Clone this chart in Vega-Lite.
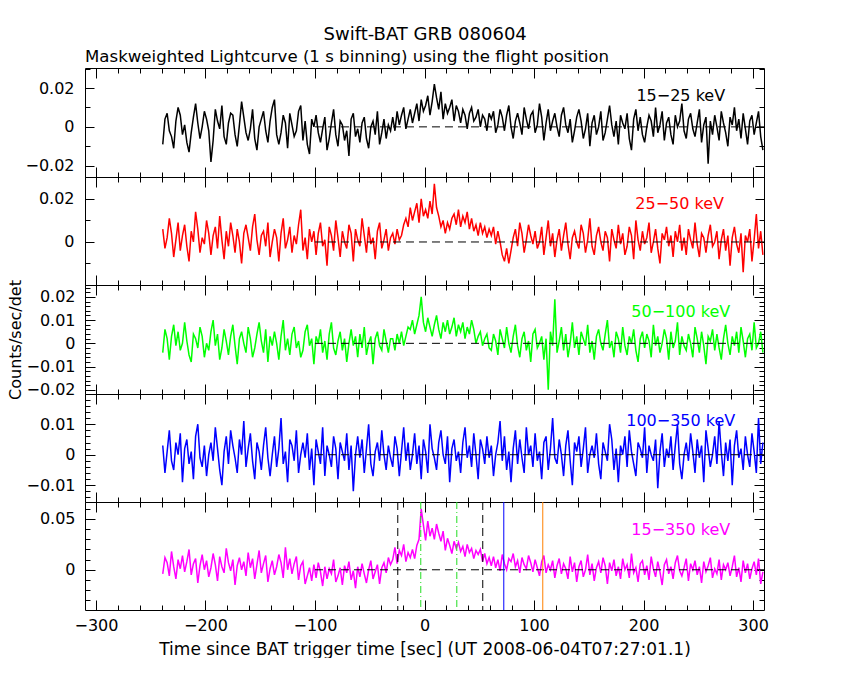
{
  "$schema": "https://vega.github.io/schema/vega-lite/v6.json",
  "padding": {"left": 7, "top": 26, "right": 0, "bottom": 0},
  "background": "white",
  "title": {"text": "Swift-BAT GRB 080604", "anchor": "middle", "offset": 4, "dx": 37, "fontSize": 18},
  "config": {
    "font": "DejaVu Sans",
    "view": {"stroke": "black", "strokeWidth": 1},
    "axis": {
      "grid": false, "domain": false,
      "labelFont": "DejaVu Sans", "labelFontSize": 16, "labelColor": "black",
      "tickColor": "black", "tickWidth": 1,
      "titleFont": "DejaVu Sans", "titleFontSize": 16, "titleFontWeight": "normal", "titleColor": "black"
    },
    "title": {"font": "DejaVu Sans", "fontSize": 16, "fontWeight": "normal", "color": "black"},
    "concat": {"spacing": 0}
  },
  "data": {"values": [
    {"t":-239,"a":-0.009,"b":0.006,"c":-0.004,"d":0.003,"e":-0.004},
    {"t":-237,"a":0.004,"b":-0.003,"c":0.006,"d":-0.006,"e":0.012},
    {"t":-235,"a":0.007,"b":0.002,"c":0.002,"d":0.001,"e":0.007},
    {"t":-233,"a":-0.002,"b":0.011,"c":-0.007,"d":0.008,"e":-0.006},
    {"t":-231,"a":-0.005,"b":0.004,"c":0.003,"d":-0.002,"e":0.018},
    {"t":-229,"a":-0.011,"b":-0.007,"c":0.008,"d":-0.005,"e":0.003},
    {"t":-227,"a":0.003,"b":0.001,"c":-0.001,"d":0.004,"e":-0.009},
    {"t":-225,"a":0.010,"b":0.009,"c":0.005,"d":0,"e":0.010},
    {"t":-223,"a":0.006,"b":-0.004,"c":-0.003,"d":0.007,"e":0.001},
    {"t":-221,"a":-0.004,"b":0.003,"c":0,"d":-0.009,"e":0.014},
    {"t":-219,"a":0.001,"b":0.008,"c":0.009,"d":0.002,"e":-0.002},
    {"t":-217,"a":-0.008,"b":-0.002,"c":0.001,"d":0.005,"e":0.008},
    {"t":-215,"a":-0.013,"b":-0.009,"c":-0.005,"d":-0.003,"e":0.020},
    {"t":-213,"a":-0.003,"b":0.005,"c":-0.008,"d":0.001,"e":-0.005},
    {"t":-211,"a":0.005,"b":0,"c":0.004,"d":-0.008,"e":0.006},
    {"t":-209,"a":0.012,"b":0.014,"c":0.002,"d":0.006,"e":0.011},
    {"t":-207,"a":0.002,"b":0.006,"c":-0.002,"d":0.010,"e":-0.013},
    {"t":-205,"a":-0.006,"b":-0.005,"c":0.007,"d":-0.001,"e":0.004},
    {"t":-203,"a":0,"b":0.002,"c":0.003,"d":-0.004,"e":0.015},
    {"t":-201,"a":0.008,"b":-0.001,"c":-0.006,"d":0.003,"e":0},
    {"t":-199,"a":0.004,"b":0.010,"c":0,"d":-0.007,"e":0.009},
    {"t":-197,"a":-0.002,"b":0.004,"c":-0.003,"d":0,"e":-0.007},
    {"t":-195,"a":-0.018,"b":-0.006,"c":0.005,"d":0.004,"e":0.002},
    {"t":-193,"a":-0.007,"b":0.003,"c":0.010,"d":-0.002,"e":0.016},
    {"t":-191,"a":0.009,"b":0.007,"c":-0.001,"d":0.009,"e":0.005},
    {"t":-189,"a":0.003,"b":-0.003,"c":0.004,"d":0.002,"e":-0.011},
    {"t":-187,"a":-0.001,"b":0.012,"c":-0.007,"d":-0.005,"e":0.013},
    {"t":-185,"a":0.011,"b":0.001,"c":-0.002,"d":-0.010,"e":0.003},
    {"t":-183,"a":-0.005,"b":-0.008,"c":0.006,"d":0.001,"e":-0.003},
    {"t":-181,"a":-0.009,"b":0.005,"c":0.001,"d":0.006,"e":0.021},
    {"t":-179,"a":0.002,"b":-0.002,"c":-0.005,"d":-0.003,"e":0.007},
    {"t":-177,"a":0.007,"b":0.009,"c":0.003,"d":0.008,"e":-0.001},
    {"t":-175,"a":0.006,"b":0.003,"c":0.008,"d":0.003,"e":0.010},
    {"t":-173,"a":-0.004,"b":-0.005,"c":-0.001,"d":-0.001,"e":-0.015},
    {"t":-171,"a":-0.010,"b":0.006,"c":-0.009,"d":-0.006,"e":0.004},
    {"t":-169,"a":0.001,"b":0,"c":0.002,"d":0.005,"e":0.012},
    {"t":-167,"a":0.013,"b":-0.010,"c":0.005,"d":0,"e":0},
    {"t":-165,"a":0.005,"b":0.004,"c":0,"d":0.011,"e":0.008},
    {"t":-163,"a":-0.003,"b":0.008,"c":-0.004,"d":-0.004,"e":-0.006},
    {"t":-161,"a":-0.007,"b":0.002,"c":0.007,"d":0.002,"e":0.017},
    {"t":-159,"a":-0.001,"b":-0.004,"c":0.002,"d":0.007,"e":0.002},
    {"t":-157,"a":0.009,"b":0.007,"c":-0.006,"d":-0.002,"e":0.011},
    {"t":-155,"a":-0.006,"b":0.013,"c":-0.002,"d":-0.008,"e":-0.009},
    {"t":-153,"a":-0.012,"b":0.001,"c":0.004,"d":0.004,"e":0.005},
    {"t":-151,"a":0,"b":-0.006,"c":0.009,"d":0.001,"e":0.019},
    {"t":-149,"a":0.004,"b":0.003,"c":0.001,"d":-0.005,"e":-0.003},
    {"t":-147,"a":0.008,"b":0.005,"c":-0.004,"d":0.003,"e":0.006},
    {"t":-145,"a":-0.002,"b":-0.002,"c":0.006,"d":0.009,"e":0.014},
    {"t":-143,"a":-0.008,"b":0.009,"c":-0.008,"d":-0.001,"e":-0.012},
    {"t":-141,"a":0.003,"b":-0.007,"c":0.003,"d":-0.007,"e":0.001},
    {"t":-139,"a":0.010,"b":0,"c":-0.001,"d":0,"e":0.009},
    {"t":-137,"a":0.014,"b":0.006,"c":0.005,"d":0.006,"e":-0.005},
    {"t":-135,"a":-0.004,"b":0.002,"c":0,"d":-0.004,"e":0.003},
    {"t":-133,"a":-0.009,"b":-0.009,"c":-0.007,"d":0.002,"e":0.015},
    {"t":-131,"a":-0.003,"b":0.004,"c":0.003,"d":0.012,"e":0.007},
    {"t":-129,"a":0.006,"b":0.011,"c":0.010,"d":-0.003,"e":-0.008},
    {"t":-127,"a":0.002,"b":-0.003,"c":-0.003,"d":0.001,"e":0.022},
    {"t":-125,"a":-0.011,"b":0.001,"c":0.002,"d":-0.009,"e":0},
    {"t":-123,"a":0.007,"b":0.007,"c":-0.005,"d":0.005,"e":0.011},
    {"t":-121,"a":0.001,"b":-0.005,"c":0.004,"d":0.003,"e":-0.004},
    {"t":-119,"a":-0.005,"b":0.003,"c":0.007,"d":-0.002,"e":0.006},
    {"t":-117,"a":-0.002,"b":-0.001,"c":-0.002,"d":0.008,"e":0.013},
    {"t":-115,"a":0.008,"b":0.008,"c":0.001,"d":-0.006,"e":-0.010},
    {"t":-113,"a":0.011,"b":0.015,"c":-0.006,"d":0,"e":0.004},
    {"t":-111,"a":-0.007,"b":-0.004,"c":-0.003,"d":0.004,"e":0.008},
    {"t":-109,"a":0.003,"b":0.002,"c":0.005,"d":-0.001,"e":-0.014},
    {"t":-107,"a":-0.009,"b":-0.008,"c":0.008,"d":0.007,"e":-0.006},
    {"t":-105,"a":-0.014,"b":0.006,"c":-0.001,"d":-0.005,"e":0.002},
    {"t":-103,"a":0.004,"b":0,"c":0.002,"d":0.002,"e":-0.011},
    {"t":-101,"a":0,"b":0.005,"c":-0.009,"d":-0.010,"e":0.005},
    {"t":-99,"a":0.006,"b":-0.006,"c":0.003,"d":0.005,"e":-0.008},
    {"t":-97,"a":-0.003,"b":0.004,"c":0,"d":0.001,"e":0.007},
    {"t":-95,"a":-0.008,"b":0.009,"c":0.006,"d":-0.003,"e":-0.002},
    {"t":-93,"a":-0.001,"b":-0.002,"c":-0.004,"d":0.009,"e":-0.016},
    {"t":-91,"a":0.005,"b":0.001,"c":0.001,"d":-0.007,"e":0.003},
    {"t":-89,"a":-0.012,"b":-0.011,"c":-0.007,"d":0.003,"e":-0.009},
    {"t":-87,"a":-0.006,"b":0.007,"c":0.004,"d":0,"e":0.001},
    {"t":-85,"a":0.002,"b":0.003,"c":0.009,"d":-0.004,"e":-0.004},
    {"t":-83,"a":0.009,"b":-0.004,"c":-0.002,"d":0.006,"e":0.010},
    {"t":-81,"a":-0.004,"b":0.010,"c":-0.005,"d":0.002,"e":-0.012},
    {"t":-79,"a":-0.010,"b":0.002,"c":0.001,"d":-0.008,"e":-0.006},
    {"t":-77,"a":0.003,"b":-0.007,"c":0.005,"d":0.004,"e":0.002},
    {"t":-75,"a":0.001,"b":0.005,"c":-0.003,"d":0.001,"e":-0.015},
    {"t":-73,"a":-0.007,"b":0,"c":0.002,"d":-0.002,"e":0.004},
    {"t":-71,"a":-0.002,"b":-0.003,"c":-0.008,"d":0.007,"e":-0.003},
    {"t":-69,"a":-0.015,"b":0.008,"c":0,"d":-0.005,"e":0.008},
    {"t":-67,"a":0.004,"b":0.004,"c":0.006,"d":0.003,"e":-0.010},
    {"t":-65,"a":0.007,"b":-0.009,"c":-0.001,"d":-0.012,"e":-0.001},
    {"t":-63,"a":-0.005,"b":0.006,"c":0.003,"d":0,"e":-0.018},
    {"t":-61,"a":-0.001,"b":0.001,"c":-0.006,"d":0.006,"e":0.003},
    {"t":-59,"a":-0.008,"b":-0.002,"c":0.004,"d":-0.001,"e":-0.007},
    {"t":-57,"a":0.002,"b":0.011,"c":-0.002,"d":0.005,"e":0.006},
    {"t":-55,"a":0.005,"b":0.003,"c":0.007,"d":-0.006,"e":-0.004},
    {"t":-53,"a":-0.006,"b":-0.005,"c":-0.005,"d":0.002,"e":-0.013},
    {"t":-51,"a":-0.011,"b":0.007,"c":0,"d":0.010,"e":0},
    {"t":-49,"a":0,"b":-0.001,"c":0.003,"d":-0.003,"e":0.009},
    {"t":-47,"a":0.003,"b":0.002,"c":-0.009,"d":-0.007,"e":-0.009},
    {"t":-45,"a":-0.004,"b":-0.008,"c":0.002,"d":0.001,"e":-0.002},
    {"t":-43,"a":0.008,"b":0.005,"c":0.005,"d":0.004,"e":0.005},
    {"t":-41,"a":-0.009,"b":0.009,"c":-0.001,"d":-0.002,"e":-0.014},
    {"t":-39,"a":-0.003,"b":-0.003,"c":-0.003,"d":0.008,"e":0.002},
    {"t":-37,"a":0.004,"b":0.001,"c":0.006,"d":0,"e":0.007},
    {"t":-35,"a":-0.006,"b":0.006,"c":0.001,"d":-0.005,"e":-0.003},
    {"t":-33,"a":0.001,"b":-0.004,"c":-0.004,"d":0.003,"e":0.012},
    {"t":-31,"a":-0.002,"b":0.002,"c":0.002,"d":-0.001,"e":0.005},
    {"t":-29,"a":0.005,"b":0.004,"c":0.002,"d":-0.004,"e":0.010},
    {"t":-27,"a":-0.002,"b":-0.001,"c":-0.003,"d":0.006,"e":0.022},
    {"t":-25,"a":0.008,"b":0.006,"c":0.004,"d":0.002,"e":0.006},
    {"t":-23,"a":0.001,"b":0.001,"c":0,"d":-0.007,"e":0.019},
    {"t":-21,"a":0.006,"b":0.003,"c":0.005,"d":0.001,"e":0.014},
    {"t":-19,"a":0.010,"b":0.008,"c":-0.001,"d":0.009,"e":0.025},
    {"t":-17,"a":-0.001,"b":0.011,"c":0.003,"d":-0.002,"e":0.008},
    {"t":-15,"a":0.004,"b":0.007,"c":0.007,"d":0.004,"e":0.017},
    {"t":-13,"a":0.009,"b":0.016,"c":0.006,"d":-0.005,"e":0.012},
    {"t":-11,"a":0.002,"b":0.010,"c":0.010,"d":0,"e":0.020},
    {"t":-9,"a":0.007,"b":0.014,"c":0.004,"d":0.007,"e":0.011},
    {"t":-7,"a":0.012,"b":0.018,"c":0.008,"d":-0.003,"e":0.024},
    {"t":-5,"a":0.003,"b":0.009,"c":0.012,"d":0.003,"e":0.030},
    {"t":-3,"a":0.014,"b":0.020,"c":0.020,"d":-0.008,"e":0.060},
    {"t":-1,"a":0.008,"b":0.012,"c":0.009,"d":0.005,"e":0.044},
    {"t":1,"a":0.011,"b":0.015,"c":0.005,"d":0.001,"e":0.029},
    {"t":3,"a":0.016,"b":0.011,"c":0.011,"d":-0.006,"e":0.048},
    {"t":5,"a":0.006,"b":0.019,"c":0.007,"d":0.010,"e":0.033},
    {"t":7,"a":0.013,"b":0.013,"c":0.003,"d":0.002,"e":0.041},
    {"t":9,"a":0.022,"b":0.027,"c":0.008,"d":-0.001,"e":0.030},
    {"t":11,"a":0.015,"b":0.016,"c":0.012,"d":-0.005,"e":0.045},
    {"t":13,"a":0.009,"b":0.012,"c":0.006,"d":0.004,"e":0.036},
    {"t":15,"a":0.018,"b":0.007,"c":0.002,"d":0.008,"e":0.028},
    {"t":17,"a":0.004,"b":0.010,"c":0.009,"d":0,"e":0.038},
    {"t":19,"a":0.012,"b":0.004,"c":0.005,"d":-0.003,"e":0.019},
    {"t":21,"a":0.007,"b":0.009,"c":0.010,"d":0.006,"e":0.031},
    {"t":23,"a":0.010,"b":0.006,"c":0.004,"d":-0.009,"e":0.024},
    {"t":25,"a":0.014,"b":0.011,"c":0.007,"d":0.002,"e":0.016},
    {"t":27,"a":0.003,"b":0.013,"c":0.011,"d":0.005,"e":0.028},
    {"t":29,"a":0.011,"b":0.008,"c":0.003,"d":-0.002,"e":0.021},
    {"t":31,"a":0.008,"b":0.015,"c":0.008,"d":0.001,"e":0.027},
    {"t":33,"a":0.002,"b":0.007,"c":0.005,"d":-0.006,"e":0.018},
    {"t":35,"a":0.009,"b":0.012,"c":0.009,"d":0.004,"e":0.023},
    {"t":37,"a":0.006,"b":0.009,"c":0.002,"d":0.009,"e":0.013},
    {"t":39,"a":-0.001,"b":0.014,"c":0.007,"d":-0.001,"e":0.025},
    {"t":41,"a":0.007,"b":0.006,"c":0.004,"d":0.003,"e":0.017},
    {"t":43,"a":0.010,"b":0.011,"c":0.010,"d":-0.004,"e":0.021},
    {"t":45,"a":0.003,"b":0.005,"c":0.006,"d":0.007,"e":0.011},
    {"t":47,"a":0.005,"b":0.008,"c":0,"d":0,"e":0.019},
    {"t":49,"a":0.009,"b":0.003,"c":0.003,"d":-0.008,"e":0.015},
    {"t":51,"a":0,"b":0.009,"c":0.005,"d":0.005,"e":0.020},
    {"t":53,"a":0.006,"b":0.004,"c":-0.001,"d":0.002,"e":0.008},
    {"t":55,"a":0.004,"b":0.007,"c":0.002,"d":-0.003,"e":0.016},
    {"t":57,"a":-0.002,"b":0.002,"c":0.004,"d":0.006,"e":0.006},
    {"t":59,"a":0.007,"b":0.006,"c":-0.002,"d":-0.001,"e":0.012},
    {"t":61,"a":0.004,"b":0.003,"c":-0.003,"d":0.003,"e":0.004},
    {"t":63,"a":0.008,"b":0.007,"c":0.004,"d":-0.007,"e":0.013},
    {"t":65,"a":-0.003,"b":-0.001,"c":0.001,"d":0,"e":0.002},
    {"t":67,"a":0.001,"b":0.005,"c":-0.005,"d":0.004,"e":0.010},
    {"t":69,"a":0.009,"b":0,"c":0.006,"d":0.011,"e":-0.001},
    {"t":71,"a":0.005,"b":-0.006,"c":0.002,"d":-0.002,"e":0.015},
    {"t":73,"a":-0.002,"b":-0.009,"c":-0.002,"d":0.006,"e":0.006},
    {"t":75,"a":0.006,"b":-0.003,"c":0.007,"d":-0.005,"e":0},
    {"t":77,"a":0.011,"b":-0.010,"c":0,"d":0.001,"e":0.011},
    {"t":79,"a":0,"b":-0.004,"c":-0.004,"d":-0.009,"e":0.008},
    {"t":81,"a":-0.006,"b":0.002,"c":0.003,"d":0.002,"e":0.016},
    {"t":83,"a":0.003,"b":0.006,"c":0.008,"d":0.008,"e":0.003},
    {"t":85,"a":0.007,"b":-0.002,"c":-0.001,"d":-0.003,"e":0.009},
    {"t":87,"a":0.002,"b":0.009,"c":-0.006,"d":0.005,"e":-0.003},
    {"t":89,"a":-0.004,"b":0.004,"c":0.002,"d":-0.001,"e":0.012},
    {"t":91,"a":0.010,"b":-0.005,"c":0.005,"d":-0.006,"e":0.005},
    {"t":93,"a":0.004,"b":0.001,"c":-0.003,"d":0.009,"e":0.001},
    {"t":95,"a":-0.001,"b":0.008,"c":0.001,"d":0,"e":0.014},
    {"t":97,"a":0.006,"b":0.003,"c":-0.008,"d":0.003,"e":0.007},
    {"t":99,"a":0.008,"b":-0.001,"c":0.004,"d":-0.004,"e":-0.002},
    {"t":101,"a":-0.003,"b":0.005,"c":0.006,"d":0.007,"e":0.010},
    {"t":103,"a":0.001,"b":-0.003,"c":-0.002,"d":-0.002,"e":0.002},
    {"t":105,"a":0.012,"b":0,"c":0,"d":0.001,"e":-0.006},
    {"t":107,"a":0.005,"b":0.007,"c":0.003,"d":-0.008,"e":0.008},
    {"t":109,"a":-0.007,"b":-0.006,"c":-0.007,"d":0.004,"e":0.014},
    {"t":111,"a":0.002,"b":0.002,"c":0.002,"d":0.006,"e":-0.003},
    {"t":113,"a":0.009,"b":0.010,"c":-0.020,"d":-0.005,"e":0.005},
    {"t":115,"a":-0.002,"b":-0.002,"c":0.005,"d":0.002,"e":0},
    {"t":117,"a":0.003,"b":0.004,"c":-0.001,"d":0.012,"e":0.009},
    {"t":119,"a":0.007,"b":-0.007,"c":0.019,"d":-0.001,"e":-0.008},
    {"t":121,"a":0,"b":0.001,"c":-0.004,"d":-0.003,"e":0.004},
    {"t":123,"a":-0.005,"b":0.006,"c":0.001,"d":0.005,"e":0.011},
    {"t":125,"a":0.006,"b":-0.004,"c":0.007,"d":0,"e":-0.004},
    {"t":127,"a":0.010,"b":0.003,"c":-0.003,"d":-0.007,"e":0.006},
    {"t":129,"a":0.001,"b":0.009,"c":0.004,"d":0.003,"e":0.001},
    {"t":131,"a":-0.003,"b":-0.001,"c":-0.006,"d":0.008,"e":-0.009},
    {"t":133,"a":0.004,"b":-0.008,"c":0,"d":-0.002,"e":0.013},
    {"t":135,"a":-0.008,"b":0.002,"c":0.009,"d":-0.010,"e":-0.002},
    {"t":137,"a":-0.002,"b":0.005,"c":-0.002,"d":0.004,"e":0.007},
    {"t":139,"a":0.005,"b":0,"c":0.003,"d":0.001,"e":-0.012},
    {"t":141,"a":0.009,"b":-0.003,"c":-0.005,"d":0.006,"e":0.003},
    {"t":143,"a":0.003,"b":0.008,"c":0.005,"d":-0.004,"e":0.009},
    {"t":145,"a":-0.006,"b":0.004,"c":0.002,"d":0.002,"e":-0.007},
    {"t":147,"a":-0.001,"b":-0.005,"c":-0.001,"d":0.009,"e":0},
    {"t":149,"a":0.007,"b":0.001,"c":0.008,"d":-0.006,"e":0.015},
    {"t":151,"a":-0.010,"b":0.011,"c":-0.004,"d":0,"e":-0.005},
    {"t":153,"a":0.002,"b":-0.002,"c":0.001,"d":0.003,"e":0.006},
    {"t":155,"a":0.006,"b":-0.006,"c":-0.007,"d":-0.001,"e":-0.011},
    {"t":157,"a":-0.004,"b":0.003,"c":0.003,"d":0.007,"e":0.002},
    {"t":159,"a":0,"b":0.007,"c":0.006,"d":-0.003,"e":0.008},
    {"t":161,"a":0.008,"b":0,"c":0,"d":-0.008,"e":-0.003},
    {"t":163,"a":-0.007,"b":-0.004,"c":-0.003,"d":0.004,"e":0.012},
    {"t":165,"a":-0.003,"b":0.005,"c":0.004,"d":0.001,"e":0.004},
    {"t":167,"a":0.004,"b":0.002,"c":0.010,"d":-0.002,"e":-0.014},
    {"t":169,"a":0.011,"b":-0.009,"c":-0.002,"d":0.010,"e":0.007},
    {"t":171,"a":0.001,"b":0.006,"c":0.001,"d":0.005,"e":-0.001},
    {"t":173,"a":-0.005,"b":0.001,"c":-0.006,"d":-0.005,"e":0.010},
    {"t":175,"a":0.003,"b":-0.003,"c":0.005,"d":0.002,"e":-0.006},
    {"t":177,"a":-0.009,"b":0.008,"c":0.002,"d":-0.009,"e":0.003},
    {"t":179,"a":0.006,"b":-0.001,"c":-0.004,"d":0.003,"e":-0.009},
    {"t":181,"a":0.002,"b":0.004,"c":0.007,"d":0,"e":0.011},
    {"t":183,"a":-0.001,"b":-0.006,"c":-0.001,"d":0.006,"e":0},
    {"t":185,"a":0.007,"b":-0.002,"c":-0.005,"d":-0.004,"e":0.005},
    {"t":187,"a":-0.006,"b":0.007,"c":0.003,"d":0.008,"e":-0.008},
    {"t":189,"a":-0.012,"b":0.003,"c":0,"d":0.001,"e":0.016},
    {"t":191,"a":0.004,"b":-0.008,"c":0.006,"d":-0.003,"e":-0.003},
    {"t":193,"a":0.009,"b":0.010,"c":-0.003,"d":-0.007,"e":0.002},
    {"t":195,"a":-0.002,"b":0.001,"c":-0.008,"d":0.004,"e":-0.012},
    {"t":197,"a":0.005,"b":-0.004,"c":0.002,"d":0.002,"e":0.006},
    {"t":199,"a":-0.004,"b":0.005,"c":0.005,"d":-0.001,"e":0.009},
    {"t":201,"a":-0.008,"b":-0.001,"c":-0.002,"d":0.009,"e":-0.005},
    {"t":203,"a":0,"b":0.002,"c":0.004,"d":-0.006,"e":0.004},
    {"t":205,"a":0.006,"b":0.009,"c":0.001,"d":0.003,"e":-0.010},
    {"t":207,"a":0.003,"b":-0.005,"c":-0.006,"d":0,"e":0.013},
    {"t":209,"a":-0.005,"b":0,"c":0.008,"d":-0.002,"e":0.001},
    {"t":211,"a":0.010,"b":0.006,"c":-0.001,"d":0.005,"e":-0.007},
    {"t":213,"a":-0.003,"b":-0.003,"c":0.003,"d":-0.011,"e":0.008},
    {"t":215,"a":0.001,"b":-0.010,"c":-0.004,"d":0.001,"e":-0.002},
    {"t":217,"a":0.008,"b":0.004,"c":0,"d":0.007,"e":-0.015},
    {"t":219,"a":-0.007,"b":0.001,"c":0.006,"d":-0.004,"e":0.005},
    {"t":221,"a":0.002,"b":0.007,"c":0.002,"d":0.002,"e":0.010},
    {"t":223,"a":0.005,"b":-0.002,"c":-0.007,"d":-0.001,"e":-0.004},
    {"t":225,"a":-0.004,"b":0.003,"c":0.005,"d":0.006,"e":0.003},
    {"t":227,"a":-0.009,"b":-0.007,"c":-0.002,"d":-0.005,"e":-0.009},
    {"t":229,"a":0.006,"b":0.005,"c":0.001,"d":0.003,"e":0.007},
    {"t":231,"a":0,"b":0,"c":0.009,"d":0.010,"e":0.014},
    {"t":233,"a":0.003,"b":0.008,"c":-0.005,"d":-0.003,"e":-0.001},
    {"t":235,"a":0.012,"b":-0.004,"c":0.003,"d":-0.008,"e":-0.006},
    {"t":237,"a":-0.002,"b":0.002,"c":-0.001,"d":0,"e":0.002},
    {"t":239,"a":-0.006,"b":-0.006,"c":-0.003,"d":0.004,"e":0.011},
    {"t":241,"a":0.004,"b":0.006,"c":0.004,"d":-0.002,"e":-0.011},
    {"t":243,"a":0.007,"b":0.001,"c":0,"d":0.007,"e":0.006},
    {"t":245,"a":-0.001,"b":-0.003,"c":-0.006,"d":0.001,"e":0},
    {"t":247,"a":-0.005,"b":0.009,"c":0.007,"d":-0.006,"e":0.009},
    {"t":249,"a":0.002,"b":-0.001,"c":0.002,"d":0.005,"e":-0.005},
    {"t":251,"a":0.009,"b":-0.007,"c":-0.004,"d":-0.001,"e":0.003},
    {"t":253,"a":-0.008,"b":0.004,"c":0.005,"d":0.003,"e":-0.013},
    {"t":255,"a":0.001,"b":0.002,"c":-0.001,"d":-0.009,"e":0.008},
    {"t":257,"a":0.005,"b":-0.005,"c":-0.009,"d":0.008,"e":-0.002},
    {"t":259,"a":-0.019,"b":0.003,"c":0.003,"d":0.002,"e":0.004},
    {"t":261,"a":0.003,"b":0.008,"c":0.001,"d":-0.004,"e":0.012},
    {"t":263,"a":-0.004,"b":-0.002,"c":0.006,"d":0,"e":-0.008},
    {"t":265,"a":0.006,"b":0,"c":-0.003,"d":0.006,"e":0.001},
    {"t":267,"a":0,"b":0.005,"c":0.004,"d":-0.003,"e":-0.004},
    {"t":269,"a":-0.007,"b":-0.008,"c":-0.002,"d":0.011,"e":0.010},
    {"t":271,"a":0.008,"b":0.001,"c":-0.007,"d":0.001,"e":-0.010},
    {"t":273,"a":0.002,"b":0.006,"c":0.002,"d":-0.007,"e":0.005},
    {"t":275,"a":-0.003,"b":-0.004,"c":0.008,"d":0.004,"e":0},
    {"t":277,"a":-0.010,"b":0.003,"c":0,"d":-0.002,"e":0.007},
    {"t":279,"a":0.005,"b":-0.011,"c":-0.005,"d":0.005,"e":-0.006},
    {"t":281,"a":0.001,"b":0.002,"c":0.003,"d":-0.010,"e":0.003},
    {"t":283,"a":0.010,"b":0.007,"c":-0.001,"d":0.003,"e":0.014},
    {"t":285,"a":-0.002,"b":-0.001,"c":0.005,"d":0.008,"e":-0.007},
    {"t":287,"a":0.004,"b":-0.005,"c":-0.004,"d":-0.001,"e":0.002},
    {"t":289,"a":-0.006,"b":0.004,"c":0.007,"d":0.002,"e":-0.012},
    {"t":291,"a":0.007,"b":-0.014,"c":0.001,"d":-0.005,"e":0.009},
    {"t":293,"a":-0.001,"b":0.003,"c":-0.006,"d":0.006,"e":-0.003},
    {"t":295,"a":-0.009,"b":0,"c":0.002,"d":0,"e":0.006},
    {"t":297,"a":0.003,"b":0.006,"c":0.004,"d":-0.004,"e":-0.009},
    {"t":299,"a":0.006,"b":-0.009,"c":-0.003,"d":0.007,"e":0.001},
    {"t":301,"a":-0.004,"b":0.001,"c":0.009,"d":0.001,"e":0.008},
    {"t":303,"a":0.002,"b":0.013,"c":-0.002,"d":-0.006,"e":-0.005},
    {"t":305,"a":0.008,"b":-0.003,"c":0,"d":0.012,"e":0.011},
    {"t":307,"a":-0.005,"b":0.005,"c":0.005,"d":-0.003,"e":-0.014},
    {"t":309,"a":-0.012,"b":-0.006,"c":-0.004,"d":0.004,"e":-0.002}
  ]},
  "bounds": "flush",
  "spacing": 0,
  "vconcat": [
    {
      "width": 679, "height": 109,
      "title": {"text": "Maskweighted Lightcurve (1 s binning) using the flight position", "anchor": "start", "frame": "group", "offset": 2, "fontSize": 16.6},
      "layer": [
        {
          "mark": {"type": "line", "color": "black", "strokeWidth": 1.5, "clip": true},
          "encoding": {
            "x": {"field": "t", "type": "quantitative", "scale": {"domain": [-310, 310], "nice": false, "zero": false},
              "axis": {"orient": "bottom", "labels": false, "title": null, "values": [-300,-280,-260,-240,-220,-200,-180,-160,-140,-120,-100,-80,-60,-40,-20,0,20,40,60,80,100,120,140,160,180,200,220,240,260,280,300],
                "tickSize": {"condition": {"test": "datum.value % 100 === 0", "value": -10}, "value": -5}}},
            "y": {"field": "a", "type": "quantitative", "scale": {"domain": [-0.0258, 0.0303], "nice": false, "zero": false},
              "axis": {"orient": "left", "title": null, "format": "~g", "labelPadding": 20, "values": [-0.02,-0.01,0,0.01,0.02,0.03],
                "labelExpr": "abs(round(datum.value*1000)) % 20 === 0 ? datum.label : ''",
                "tickSize": {"condition": {"test": "abs(round(datum.value*1000)) % 20 === 0", "value": -9}, "value": -5}}}
          }
        },
        {
          "data": {"values": [{}]},
          "mark": {"type": "rule", "color": "black", "strokeDash": [8, 5], "strokeWidth": 1},
          "encoding": {
            "x": {"datum": -100, "type": "quantitative", "scale": {"domain": [-310, 310], "nice": false, "zero": false},
              "axis": {"orient": "top", "labels": false, "title": null, "values": [-300,-280,-260,-240,-220,-200,-180,-160,-140,-120,-100,-80,-60,-40,-20,0,20,40,60,80,100,120,140,160,180,200,220,240,260,280,300],
                "tickSize": {"condition": {"test": "datum.value % 100 === 0", "value": -10}, "value": -5}}},
            "x2": {"datum": 310},
            "y": {"datum": 0, "type": "quantitative", "scale": {"domain": [-0.0258, 0.0303], "nice": false, "zero": false},
              "axis": {"orient": "right", "labels": false, "title": null, "values": [-0.02,-0.01,0,0.01,0.02,0.03],
                "tickSize": {"condition": {"test": "abs(round(datum.value*1000)) % 20 === 0", "value": -9}, "value": -5}}}
          }
        },
        {
          "data": {"values": [{}]},
          "mark": {"type": "text", "text": "15−25 keV", "fontSize": 16, "font": "DejaVu Sans", "color": "black", "align": "center", "baseline": "middle"},
          "encoding": {
            "x": {"datum": 234, "type": "quantitative", "axis": null},
            "y": {"datum": 0.016, "type": "quantitative", "axis": null}
          }
        }
      ],
      "resolve": {"axis": {"x": "independent", "y": "independent"}}
    },
    {
      "width": 679, "height": 108,
      "layer": [
        {
          "mark": {"type": "line", "color": "#ff0000", "strokeWidth": 1.5, "clip": true},
          "encoding": {
            "x": {"field": "t", "type": "quantitative", "scale": {"domain": [-310, 310], "nice": false, "zero": false},
              "axis": {"orient": "bottom", "labels": false, "title": null, "values": [-300,-280,-260,-240,-220,-200,-180,-160,-140,-120,-100,-80,-60,-40,-20,0,20,40,60,80,100,120,140,160,180,200,220,240,260,280,300],
                "tickSize": {"condition": {"test": "datum.value % 100 === 0", "value": -10}, "value": -5}}},
            "y": {"field": "b", "type": "quantitative", "scale": {"domain": [-0.020, 0.0302], "nice": false, "zero": false},
              "axis": {"orient": "left", "title": null, "format": "~g", "labelPadding": 20, "values": [-0.02,-0.01,0,0.01,0.02,0.03],
                "labelExpr": "abs(round(datum.value*1000)) % 20 === 0 && datum.value > -0.015 ? datum.label : ''",
                "tickSize": {"condition": {"test": "abs(round(datum.value*1000)) % 20 === 0", "value": -9}, "value": -5}}}
          }
        },
        {
          "data": {"values": [{}]},
          "mark": {"type": "rule", "color": "black", "strokeDash": [8, 5], "strokeWidth": 1},
          "encoding": {
            "x": {"datum": -100, "type": "quantitative", "scale": {"domain": [-310, 310], "nice": false, "zero": false},
              "axis": {"orient": "top", "labels": false, "title": null, "values": [-300,-280,-260,-240,-220,-200,-180,-160,-140,-120,-100,-80,-60,-40,-20,0,20,40,60,80,100,120,140,160,180,200,220,240,260,280,300],
                "tickSize": {"condition": {"test": "datum.value % 100 === 0", "value": -10}, "value": -5}}},
            "x2": {"datum": 310},
            "y": {"datum": 0, "type": "quantitative", "scale": {"domain": [-0.020, 0.0302], "nice": false, "zero": false},
              "axis": {"orient": "right", "labels": false, "title": null, "values": [-0.02,-0.01,0,0.01,0.02,0.03],
                "tickSize": {"condition": {"test": "abs(round(datum.value*1000)) % 20 === 0", "value": -9}, "value": -5}}}
          }
        },
        {
          "data": {"values": [{}]},
          "mark": {"type": "text", "text": "25−50 keV", "fontSize": 16, "font": "DejaVu Sans", "color": "#ff0000", "align": "center", "baseline": "middle"},
          "encoding": {
            "x": {"datum": 233, "type": "quantitative", "axis": null},
            "y": {"datum": 0.0178, "type": "quantitative", "axis": null}
          }
        }
      ],
      "resolve": {"axis": {"x": "independent", "y": "independent"}}
    },
    {
      "width": 679, "height": 109,
      "layer": [
        {
          "mark": {"type": "line", "color": "#00ff00", "strokeWidth": 1.5, "clip": true},
          "encoding": {
            "x": {"field": "t", "type": "quantitative", "scale": {"domain": [-310, 310], "nice": false, "zero": false},
              "axis": {"orient": "bottom", "labels": false, "title": null, "values": [-300,-280,-260,-240,-220,-200,-180,-160,-140,-120,-100,-80,-60,-40,-20,0,20,40,60,80,100,120,140,160,180,200,220,240,260,280,300],
                "tickSize": {"condition": {"test": "datum.value % 100 === 0", "value": -10}, "value": -5}}},
            "y": {"field": "c", "type": "quantitative", "scale": {"domain": [-0.0218, 0.0251], "nice": false, "zero": false},
              "axis": {"orient": "left", "title": "Counts/sec/det", "titlePadding": 2, "format": "~g", "labelPadding": 20,
                "values": [-0.02,-0.018,-0.016,-0.014,-0.012,-0.01,-0.008,-0.006,-0.004,-0.002,0,0.002,0.004,0.006,0.008,0.01,0.012,0.014,0.016,0.018,0.02,0.022,0.024],
                "labelExpr": "abs(round(datum.value*1000)) % 10 === 0 ? datum.label : ''",
                "tickSize": {"condition": {"test": "abs(round(datum.value*1000)) % 10 === 0", "value": -10}, "value": -5}}}
          }
        },
        {
          "data": {"values": [{}]},
          "mark": {"type": "rule", "color": "black", "strokeDash": [8, 5], "strokeWidth": 1},
          "encoding": {
            "x": {"datum": -100, "type": "quantitative", "scale": {"domain": [-310, 310], "nice": false, "zero": false},
              "axis": {"orient": "top", "labels": false, "title": null, "values": [-300,-280,-260,-240,-220,-200,-180,-160,-140,-120,-100,-80,-60,-40,-20,0,20,40,60,80,100,120,140,160,180,200,220,240,260,280,300],
                "tickSize": {"condition": {"test": "datum.value % 100 === 0", "value": -10}, "value": -5}}},
            "x2": {"datum": 310},
            "y": {"datum": 0, "type": "quantitative", "scale": {"domain": [-0.0218, 0.0251], "nice": false, "zero": false},
              "axis": {"orient": "right", "labels": false, "title": null,
                "values": [-0.02,-0.018,-0.016,-0.014,-0.012,-0.01,-0.008,-0.006,-0.004,-0.002,0,0.002,0.004,0.006,0.008,0.01,0.012,0.014,0.016,0.018,0.02,0.022,0.024],
                "tickSize": {"condition": {"test": "abs(round(datum.value*1000)) % 10 === 0", "value": -10}, "value": -5}}}
          }
        },
        {
          "data": {"values": [{}]},
          "mark": {"type": "text", "text": "50−100 keV", "fontSize": 16, "font": "DejaVu Sans", "color": "#00ff00", "align": "center", "baseline": "middle"},
          "encoding": {
            "x": {"datum": 234, "type": "quantitative", "axis": null},
            "y": {"datum": 0.0133, "type": "quantitative", "axis": null}
          }
        }
      ],
      "resolve": {"axis": {"x": "independent", "y": "independent"}}
    },
    {
      "width": 679, "height": 108,
      "layer": [
        {
          "mark": {"type": "line", "color": "#0000ff", "strokeWidth": 1.5, "clip": true},
          "encoding": {
            "x": {"field": "t", "type": "quantitative", "scale": {"domain": [-310, 310], "nice": false, "zero": false},
              "axis": {"orient": "bottom", "labels": false, "title": null, "values": [-300,-280,-260,-240,-220,-200,-180,-160,-140,-120,-100,-80,-60,-40,-20,0,20,40,60,80,100,120,140,160,180,200,220,240,260,280,300],
                "tickSize": {"condition": {"test": "datum.value % 100 === 0", "value": -10}, "value": -5}}},
            "y": {"field": "d", "type": "quantitative", "scale": {"domain": [-0.0155, 0.0199], "nice": false, "zero": false},
              "axis": {"orient": "left", "title": null, "format": "~g", "labelPadding": 20,
                "values": [-0.014,-0.012,-0.01,-0.008,-0.006,-0.004,-0.002,0,0.002,0.004,0.006,0.008,0.01,0.012,0.014,0.016,0.018],
                "labelExpr": "abs(round(datum.value*1000)) % 10 === 0 ? datum.label : ''",
                "tickSize": {"condition": {"test": "abs(round(datum.value*1000)) % 10 === 0", "value": -10}, "value": -5}}}
          }
        },
        {
          "data": {"values": [{}]},
          "mark": {"type": "rule", "color": "black", "strokeDash": [8, 5], "strokeWidth": 1},
          "encoding": {
            "x": {"datum": -100, "type": "quantitative", "scale": {"domain": [-310, 310], "nice": false, "zero": false},
              "axis": {"orient": "top", "labels": false, "title": null, "values": [-300,-280,-260,-240,-220,-200,-180,-160,-140,-120,-100,-80,-60,-40,-20,0,20,40,60,80,100,120,140,160,180,200,220,240,260,280,300],
                "tickSize": {"condition": {"test": "datum.value % 100 === 0", "value": -10}, "value": -5}}},
            "x2": {"datum": 310},
            "y": {"datum": 0, "type": "quantitative", "scale": {"domain": [-0.0155, 0.0199], "nice": false, "zero": false},
              "axis": {"orient": "right", "labels": false, "title": null,
                "values": [-0.014,-0.012,-0.01,-0.008,-0.006,-0.004,-0.002,0,0.002,0.004,0.006,0.008,0.01,0.012,0.014,0.016,0.018],
                "tickSize": {"condition": {"test": "abs(round(datum.value*1000)) % 10 === 0", "value": -10}, "value": -5}}}
          }
        },
        {
          "data": {"values": [{}]},
          "mark": {"type": "text", "text": "100−350 keV", "fontSize": 16, "font": "DejaVu Sans", "color": "#0000ff", "align": "center", "baseline": "middle"},
          "encoding": {
            "x": {"datum": 234, "type": "quantitative", "axis": null},
            "y": {"datum": 0.0111, "type": "quantitative", "axis": null}
          }
        }
      ],
      "resolve": {"axis": {"x": "independent", "y": "independent"}}
    },
    {
      "width": 679, "height": 108,
      "layer": [
        {
          "mark": {"type": "line", "color": "#ff00ff", "strokeWidth": 1.5, "clip": true},
          "encoding": {
            "x": {"field": "t", "type": "quantitative", "scale": {"domain": [-310, 310], "nice": false, "zero": false},
              "axis": {"orient": "bottom", "title": "Time since BAT trigger time [sec] (UT 2008-06-04T07:27:01.1)", "titleFontSize": 17, "titlePadding": 8, "format": "d", "labelPadding": 17,
                "values": [-300,-280,-260,-240,-220,-200,-180,-160,-140,-120,-100,-80,-60,-40,-20,0,20,40,60,80,100,120,140,160,180,200,220,240,260,280,300],
                "labelExpr": "datum.value % 100 === 0 ? datum.label : ''",
                "tickSize": {"condition": {"test": "datum.value % 100 === 0", "value": -10}, "value": -5}}},
            "y": {"field": "e", "type": "quantitative", "scale": {"domain": [-0.0396, 0.0667], "nice": false, "zero": false},
              "axis": {"orient": "left", "title": null, "format": "~g", "labelPadding": 20,
                "values": [-0.03,-0.02,-0.01,0,0.01,0.02,0.03,0.04,0.05,0.06],
                "labelExpr": "abs(round(datum.value*1000)) % 50 === 0 ? datum.label : ''",
                "tickSize": {"condition": {"test": "abs(round(datum.value*1000)) % 50 === 0", "value": -10}, "value": -5}}}
          }
        },
        {
          "data": {"values": [{}]},
          "mark": {"type": "rule", "color": "black", "strokeDash": [8, 5], "strokeWidth": 1},
          "encoding": {
            "x": {"datum": -100, "type": "quantitative", "scale": {"domain": [-310, 310], "nice": false, "zero": false},
              "axis": {"orient": "top", "labels": false, "title": null, "values": [-300,-280,-260,-240,-220,-200,-180,-160,-140,-120,-100,-80,-60,-40,-20,0,20,40,60,80,100,120,140,160,180,200,220,240,260,280,300],
                "tickSize": {"condition": {"test": "datum.value % 100 === 0", "value": -10}, "value": -5}}},
            "x2": {"datum": 310},
            "y": {"datum": 0, "type": "quantitative", "scale": {"domain": [-0.0396, 0.0667], "nice": false, "zero": false},
              "axis": {"orient": "right", "labels": false, "title": null,
                "values": [-0.03,-0.02,-0.01,0,0.01,0.02,0.03,0.04,0.05,0.06],
                "tickSize": {"condition": {"test": "abs(round(datum.value*1000)) % 50 === 0", "value": -10}, "value": -5}}}
          }
        },
        {
          "data": {"values": [{"t": -24.4}, {"t": 53.2}]},
          "mark": {"type": "rule", "color": "black", "strokeDash": [8, 5], "strokeWidth": 1},
          "encoding": {"x": {"field": "t", "type": "quantitative", "axis": null}}
        },
        {
          "data": {"values": [{"t": -3.4}, {"t": 29.5}]},
          "mark": {"type": "rule", "color": "#22dd22", "strokeDash": [7, 3, 1, 3], "strokeWidth": 1},
          "encoding": {"x": {"field": "t", "type": "quantitative", "axis": null}}
        },
        {
          "data": {"values": [{"t": 72.4}]},
          "mark": {"type": "rule", "color": "#0000ff", "strokeWidth": 1},
          "encoding": {"x": {"field": "t", "type": "quantitative", "axis": null}}
        },
        {
          "data": {"values": [{"t": 108}]},
          "mark": {"type": "rule", "color": "#ff8000", "strokeWidth": 1},
          "encoding": {"x": {"field": "t", "type": "quantitative", "axis": null}}
        },
        {
          "data": {"values": [{}]},
          "mark": {"type": "text", "text": "15−350 keV", "fontSize": 16, "font": "DejaVu Sans", "color": "#ff00ff", "align": "center", "baseline": "middle"},
          "encoding": {
            "x": {"datum": 234, "type": "quantitative", "axis": null},
            "y": {"datum": 0.0395, "type": "quantitative", "axis": null}
          }
        }
      ],
      "resolve": {"axis": {"x": "independent", "y": "independent"}}
    }
  ]
}
